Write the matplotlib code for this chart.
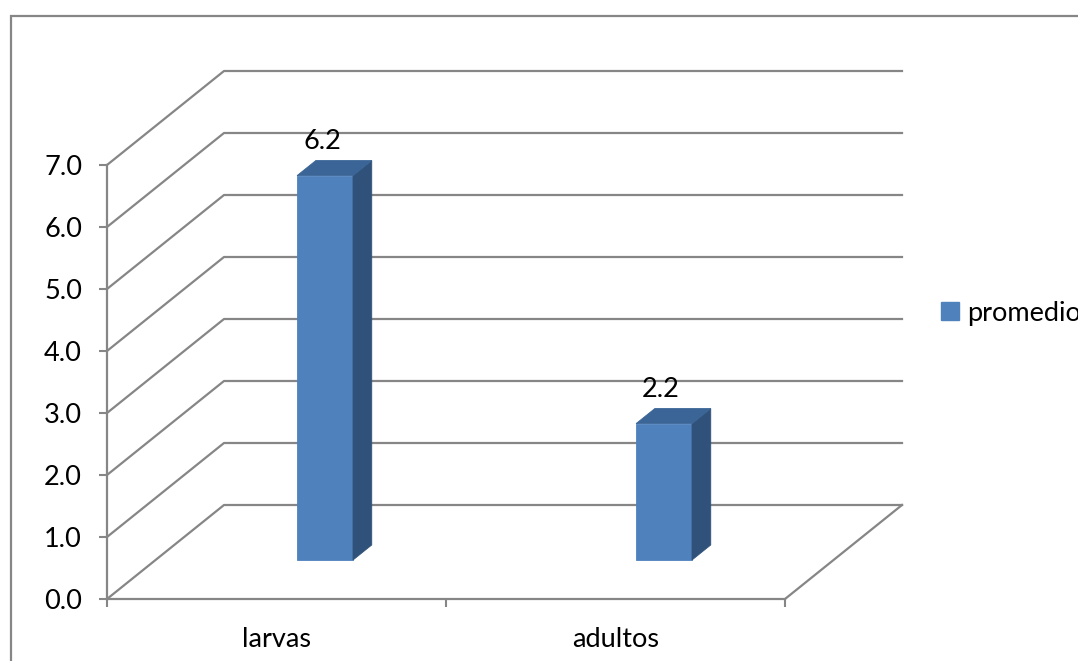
import numpy as np
import matplotlib
matplotlib.use("Agg")
import matplotlib.pyplot as plt
from matplotlib.patches import Polygon, Rectangle, Patch
from matplotlib.lines import Line2D
from matplotlib.transforms import IdentityTransform

categories = ["larvas", "adultos"]
promedio = [6.2, 2.2]
series_name = "promedio"
y_ticks = [0, 1, 2, 3, 4, 5, 6, 7]

GRID = "#868686"
FRONT = "#4F81BD"
SIDE = "#30527A"
TOP = "#3A6596"
FS = 19.5

plt.rcParams["font.family"] = ["Lato", "DejaVu Sans"]

fig = plt.figure(figsize=(10.78, 6.61), dpi=100)
ax = fig.add_axes([107 / 1078, 62 / 661, 678 / 1078, 434 / 661])
ax.set_xlim(0, len(categories))
ax.set_ylim(0, 7)
ax.set_autoscale_on(False)

# oblique depth of the 3d box, in pixels
depth_px = np.array([117.0, 94.0])
bar_w = 0.165
d0, d1 = 0.415, 0.575


def proj(x, y, d):
    p = ax.transData.transform((x, y))
    return p + d * depth_px


def poly_line(pts, **kw):
    pts = np.array(pts)
    ln = Line2D(pts[:, 0], pts[:, 1], transform=IdentityTransform(),
                color=GRID, lw=1.6, clip_on=False, zorder=1, **kw)
    ax.add_line(ln)


# side wall + back wall gridlines
n = len(categories)
for v in y_ticks:
    poly_line([proj(0, v, 0), proj(0, v, 1), proj(n, v, 1)])
# floor right edge
poly_line([proj(n, 0, 0), proj(n, 0, 1)])

# bars
for i, v in enumerate(promedio):
    c = i + 0.5
    xl, xr = c - bar_w / 2, c + bar_w / 2
    faces = [
        ([proj(xl, 0, d0), proj(xr, 0, d0), proj(xr, v, d0), proj(xl, v, d0)], FRONT),
        ([proj(xr, 0, d0), proj(xr, 0, d1), proj(xr, v, d1), proj(xr, v, d0)], SIDE),
        ([proj(xl, v, d0), proj(xr, v, d0), proj(xr, v, d1), proj(xl, v, d1)], TOP),
    ]
    for pts, col in faces:
        ax.add_patch(Polygon(pts, closed=True, facecolor=col, edgecolor=col, lw=0.6,
                             transform=IdentityTransform(), clip_on=False, zorder=3))
    lx, ly = proj(c, v, d0)
    ax.text(lx - 3, ly + 22, f"{v:.1f}", transform=IdentityTransform(),
            ha="center", va="bottom", fontsize=FS, color="#000000", zorder=4)

# axes styling
for s in ["top", "right"]:
    ax.spines[s].set_visible(False)
for s in ["left", "bottom"]:
    ax.spines[s].set_color(GRID)
    ax.spines[s].set_linewidth(1.6)
ax.set_facecolor("none")

ax.set_yticks(y_ticks)
ax.set_yticklabels([f"{t:.1f}" for t in y_ticks])
ax.tick_params(axis="y", length=6, width=1.5, color=GRID, pad=12, labelsize=FS)

ax.set_xticks(range(n + 1))
ax.set_xticklabels([""] * (n + 1))
ax.set_xticks([i + 0.5 for i in range(n)], minor=True)
ax.set_xticklabels(categories, minor=True)
ax.tick_params(axis="x", which="major", length=6, width=1.5, color=GRID)
ax.tick_params(axis="x", which="minor", length=0, pad=20, labelsize=FS)

# legend
fig.legend([Patch(facecolor=FRONT, edgecolor=FRONT)], [series_name],
           loc="center left", bbox_to_anchor=(941 / 1078, 1 - 313 / 661),
           frameon=False, borderpad=0, borderaxespad=0, fontsize=FS,
           handlelength=0.65, handleheight=0.65, handletextpad=0.3)

# outer chart border
fig.add_artist(Rectangle((11 / 1078, -0.5), 2, 1.5 - 16 / 661, transform=fig.transFigure,
                         fill=False, edgecolor=GRID, lw=1.6))

fig.savefig("out.png", dpi=100)
